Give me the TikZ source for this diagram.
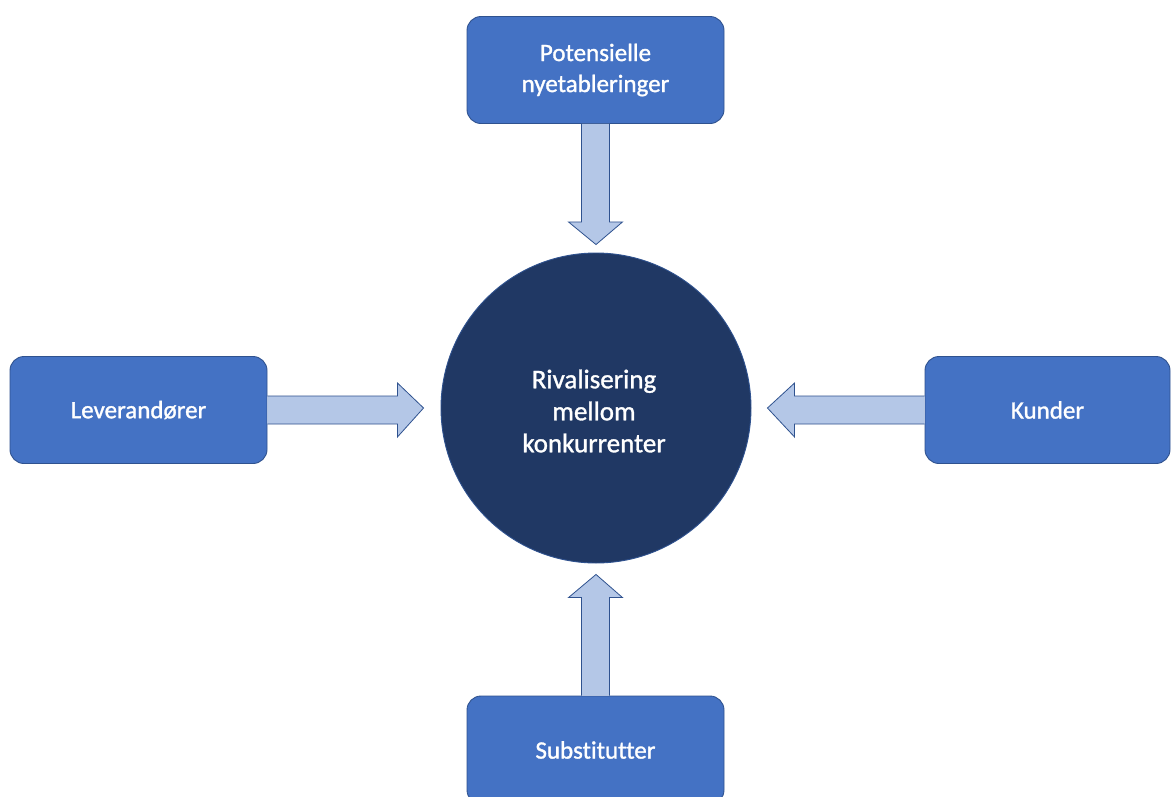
\documentclass[tikz,border=0pt]{standalone}
\usepackage{fontspec}
\setmainfont{Carlito}
\newfontfamily\labelfont[FakeBold=1.2, Ligatures=NoCommon]{Carlito}
\usetikzlibrary{calc}
\definecolor{boxblue}{HTML}{4472C4}
\definecolor{boxedge}{HTML}{2F528F}
\definecolor{navy}{HTML}{203864}
\definecolor{arrowfill}{HTML}{B4C7E7}
\tikzset{
  force/.style={draw=boxedge, line width=0.9pt, fill=boxblue, rounded corners=14pt,
    text=white, align=center, font=\labelfont\fontsize{25}{31}\selectfont, inner sep=0pt,
    minimum width=257pt, minimum height=107pt},
  core/.style={circle, draw=boxedge, line width=0.9pt, fill=navy,
    minimum size=310pt, inner sep=0pt},
  coretext/.style={text=white, align=center, font=\labelfont\fontsize{27}{32}\selectfont,
    inner sep=0pt},
  blockarrow/.style={draw=boxedge, line width=0.8pt, fill=arrowfill, line join=miter}
}
\begin{document}
\begin{tikzpicture}[x=1pt,y=-1pt]
  \clip (0,0) rectangle (1171,796);
  \fill[white] (0,0) rectangle (1171,796);

  \node[core] (rival) at (596,408) {};
  \node[coretext] (rivaltext) at (594,411) {Rivalisering\\mellom\\konkurrenter};
  \node[force] (entry) at (595.5,70) {Potensielle\\nyetableringer};
  \node[force] (supp) at (138.5,410) {Leverandører};
  \node[force, minimum width=245pt] (cust) at (1047.5,410) {Kunder};
  \node[force, minimum height=108pt] (subst) at (595.5,750) {Substitutter};

  % block arrow from the top box down toward the circle
  \draw[blockarrow]
    ($(entry.south)+(-14,0)$) -- ($(entry.south)+(-14,98)$) -- ($(entry.south)+(-27,98)$)
    -- ($(rival.north)+(0,-8)$) -- ($(entry.south)+(27,98)$) -- ($(entry.south)+(14,98)$)
    -- ($(entry.south)+(14,0)$);
  % block arrow from the left box toward the circle
  \draw[blockarrow]
    ($(supp.east)+(0,-14)$) -- ($(supp.east)+(130,-14)$) -- ($(supp.east)+(130,-27)$)
    -- ($(rival.west)+(-17,0)$) -- ($(supp.east)+(130,27)$) -- ($(supp.east)+(130,14)$)
    -- ($(supp.east)+(0,14)$);
  % block arrow from the right box toward the circle
  \draw[blockarrow]
    ($(cust.west)+(0,-14)$) -- ($(cust.west)+(-130,-14)$) -- ($(cust.west)+(-130,-27)$)
    -- ($(rival.east)+(16,0)$) -- ($(cust.west)+(-130,27)$) -- ($(cust.west)+(-130,14)$)
    -- ($(cust.west)+(0,14)$);
  % block arrow from the bottom box up toward the circle
  \draw[blockarrow]
    ($(subst.north)+(-14,0)$) -- ($(subst.north)+(-14,-98)$) -- ($(subst.north)+(-27,-98)$)
    -- ($(rival.south)+(0,11)$) -- ($(subst.north)+(27,-98)$) -- ($(subst.north)+(14,-98)$)
    -- ($(subst.north)+(14,0)$);
\end{tikzpicture}
\end{document}
